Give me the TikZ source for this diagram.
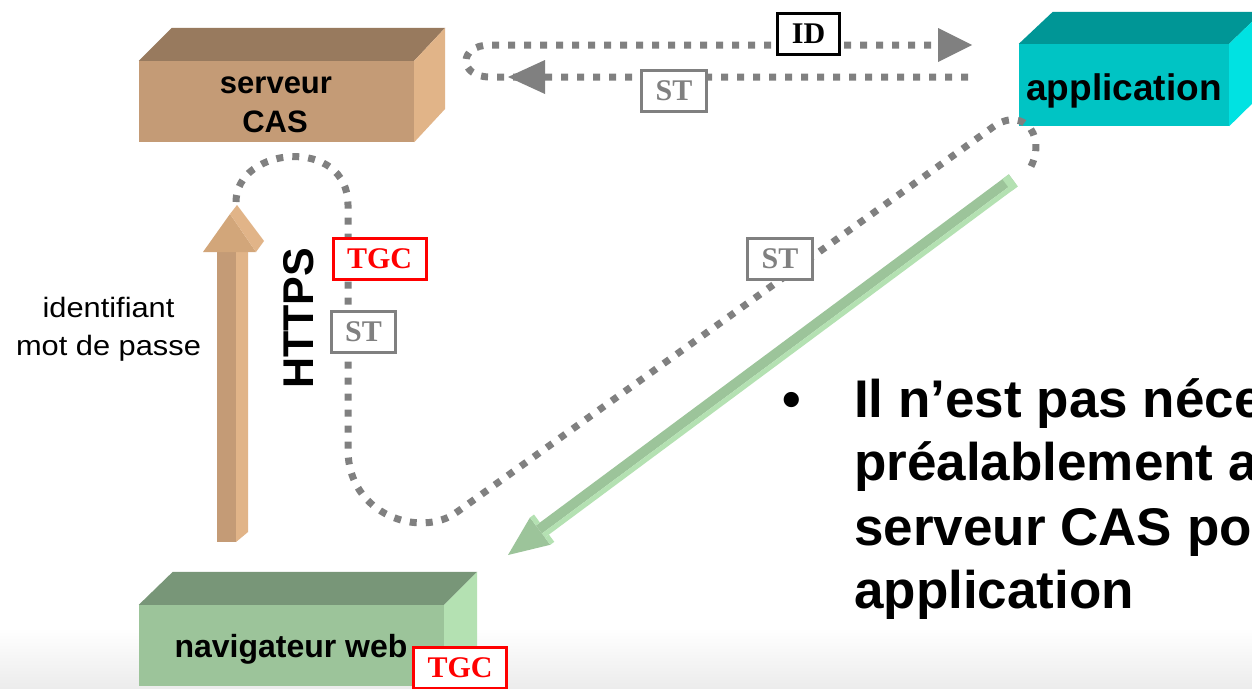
\documentclass[tikz,border=0pt]{standalone}
\usepackage{fontspec}
\usepackage{graphicx}
\setmainfont{Liberation Sans}
\newfontfamily\tagfont{Liberation Serif}
\usetikzlibrary{calc}

% face colours of the three blocks
\definecolor{casfront}{RGB}{196,155,118}
\definecolor{castop}{RGB}{152,122,94}
\definecolor{casside}{RGB}{225,180,136}
\definecolor{cashead}{RGB}{210,166,122}
\definecolor{appfront}{RGB}{0,196,196}
\definecolor{apptop}{RGB}{0,150,150}
\definecolor{appside}{RGB}{0,226,226}
\definecolor{navfront}{RGB}{156,196,154}
\definecolor{navtop}{RGB}{120,150,120}
\definecolor{navside}{RGB}{180,225,178}
\definecolor{flowgray}{RGB}{128,128,128}
\definecolor{tgcred}{RGB}{255,0,0}

\tikzset{
  flow/.style={draw=flowgray, line width=7pt, dash pattern=on 7pt off 9pt},
  facefront/.style={rectangle, inner sep=0pt, draw=none},
  boxtext/.style={font=\bfseries\fontsize{31}{38}\selectfont, inner sep=0pt, anchor=base},
  tag/.style={draw, line width=3pt, fill=white,
    font=\tagfont\bfseries\fontsize{30}{36}\selectfont,
    inner xsep=14pt, inner ysep=0pt, minimum height=41pt},
  tgctag/.style={tag, draw=tgcred, text=tgcred},
  sttag/.style={tag, draw=flowgray, text=flowgray},
  idtag/.style={tag, draw=black, text=black},
  note/.style={font=\bfseries\fontsize{53}{64}\selectfont, inner sep=0pt, anchor=base west},
}

\begin{document}
\begin{tikzpicture}[x=1pt, y=-1pt]
\useasboundingbox (0,0) rectangle (1252,688);
\clip (0,0) rectangle (1252,688);
\fill[white] (0,0) rectangle (1252,688);
\shade[top color=white, bottom color=gray!15] (0,628) rectangle (1252,688);

% ---- block faces (front faces are the named nodes) ----
\node[facefront, fill=casfront, minimum width=275pt, minimum height=81pt] (cas) at (276.5,101.5) {};
\fill[castop] (cas.north west) -- ++(33,-33) -- ($(cas.north east)+(31,-33)$) -- (cas.north east) -- cycle;
\fill[casside] (cas.north east) -- ++(31,-33) -- ++(0,81) -- (cas.south east) -- cycle;
\node[boxtext] (castxt1) at (276,93) {serveur};
\node[boxtext] (castxt2) at (275,132) {CAS};

\node[facefront, fill=appfront, minimum width=210pt, minimum height=82pt] (app) at (1124,85) {};
\fill[apptop] (app.north west) -- ++(34,-32) -- ($(app.north east)+(33,-32)$) -- (app.north east) -- cycle;
\fill[appside] (app.north east) -- ++(33,-32) -- ++(0,82) -- (app.south east) -- cycle;
\node[boxtext, font=\bfseries\fontsize{37}{44}\selectfont] (apptxt) at (1124,100) {application};

\node[facefront, fill=navfront, minimum width=305pt, minimum height=81pt] (nav) at (291.5,645.5) {};
\fill[navtop] (nav.north west) -- ++(34,-33) -- ($(nav.north east)+(33,-33)$) -- (nav.north east) -- cycle;
\fill[navside] (nav.north east) -- ++(33,-33) -- ++(0,81) -- (nav.south east) -- cycle;
\node[boxtext, font=\bfseries\fontsize{32}{38}\selectfont] (navtxt) at (291,657) {navigateur web};

% ---- exchange between CAS server and application ----
\coordinate (idend) at (938,45);
\coordinate (idtip) at (972,45);
\coordinate (ststart) at (968,77);
\coordinate (sttip) at (508,77);
\draw[flow] (ststart) -- (490,77) .. controls (458,77) and (458,45) .. (490,45) -- (idend);
\fill[flowgray] (idtip) -- ++(-34,-17) -- ++(0,34) -- cycle;
\fill[flowgray] (sttip) -- ++(37,-17) -- ++(0,34) -- cycle;
\node[idtag] (idlbl) at (808.5,34) {ID};
\node[sttag] (stlbl1) at (674,91) {ST};

% ---- HTTPS round trip between browser, CAS server and application ----
\coordinate (httpsA) at (236,202);
\coordinate (httpsB) at (1027,173);
\draw[flow] (httpsA) .. controls (236,146) and (348,136) .. (348,205)
  -- (348,450) .. controls (348,515) and (421,539) .. (457,512)
  -- (993,127) .. controls (1025,104) and (1050,140) .. (httpsB);
\node[tgctag] (tgclbl1) at (379.5,259) {TGC};
\node[sttag] (stlbl2) at (363.5,332) {ST};
\node[sttag] (stlbl3) at (780,259) {ST};
\node[font=\bfseries\fontsize{43}{50}\selectfont, inner sep=0pt, rotate=90] (https) at (298.5,318.5) {HTTPS};

% ---- login arrow (browser up to CAS server) ----
\fill[casfront] (217,252) rectangle (236,542);
\fill[casside] (236,252) -- (248,240) -- (248,532) -- (236,542) -- cycle;
\fill[cashead] (203,252) -- (230,214) -- (256,252) -- cycle;
\fill[casside] (230,214) -- (237,205) -- (264,241) -- (256,252) -- cycle;
\node[font=\fontsize{28}{38}\selectfont, inner sep=0pt, anchor=base] (login1) at (108.5,317) {\scalebox{1.1}[1]{identifiant}};
\node[font=\fontsize{28}{38}\selectfont, inner sep=0pt, anchor=base] (login2) at (108.5,355) {\scalebox{1.1}[1]{mot de passe}};

% ---- redirect arrow (application down to browser) ----
\begin{scope}[shift={(508,555)}, rotate=36.6]
  \fill[navfront] (40,-7) rectangle (629,3);
  \fill[navside] (40,3) rectangle (629,8);
  \fill[navside] (621,-7) rectangle (629,8);
  \fill[navfront] (0,0) -- (40,-17) -- (40,17) -- cycle;
  \fill[navside] (40,-17) rectangle (45,-7);
  \fill[navside] (40,8) rectangle (45,17);
\end{scope}

\node[tgctag] (tgclbl2) at (460,668) {TGC};

% ---- bullet text ----
\node[note, anchor=base] (bullet) at (792,417) {•};
\node[note] (line1) at (854,417) {Il n’est pas néce};
\node[note] (line2) at (854,480) {préalablement a};
\node[note] (line3) at (854,545) {serveur CAS po};
\node[note] (line4) at (854,608) {application};
\end{tikzpicture}
\end{document}
